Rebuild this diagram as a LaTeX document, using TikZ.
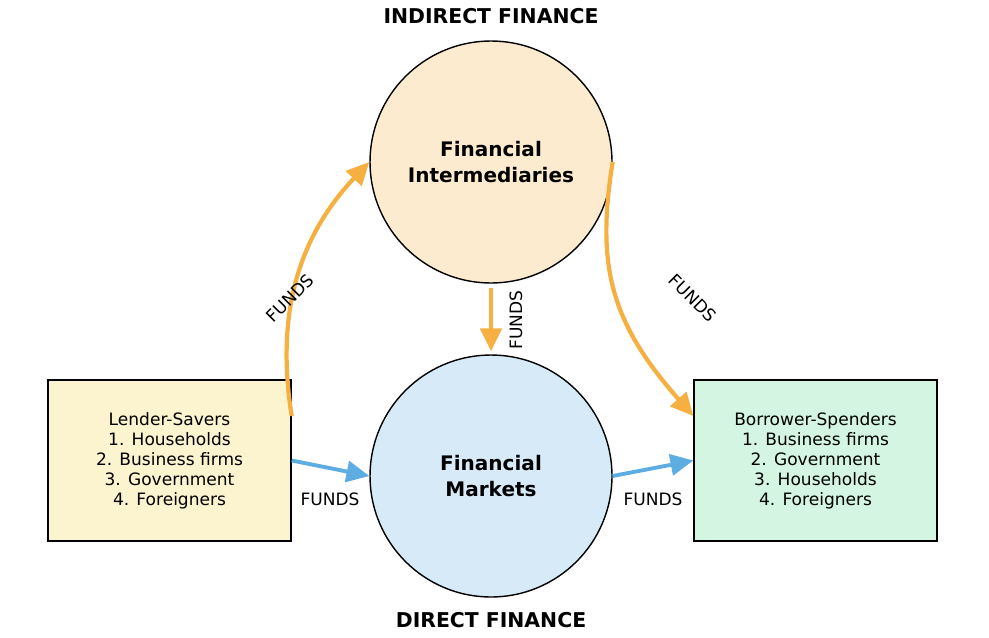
\documentclass[tikz,border=0pt]{standalone}
\usepackage{fontspec}
\setmainfont{DejaVu Sans}
\usetikzlibrary{arrows.meta}
\definecolor{fundorange}{HTML}{F5B041}
\definecolor{fundblue}{HTML}{5DADE2}
\definecolor{interfill}{HTML}{FDEBD0}
\definecolor{marketfill}{HTML}{D6EAF8}
\definecolor{lenderfill}{HTML}{FCF3CF}
\definecolor{borrowerfill}{HTML}{D5F5E3}

\begin{document}
\begin{tikzpicture}[
  x=0.02cm, y=0.02cm,
  hub/.style={circle, draw=black, line width=0.8pt, minimum size=4.84cm,
              inner sep=0pt, align=center,
              font=\fontsize{11.4}{14.6}\selectfont\bfseries},
  sector/.style={rectangle, draw=black, line width=0.8pt, minimum width=4.86cm,
                 minimum height=3.22cm, align=center,
                 font=\fontsize{9.7}{11.4}\selectfont},
  heading/.style={font=\fontsize{11.6}{14}\selectfont\bfseries},
  fundlabel/.style={font=\fontsize{9.7}{11.4}\selectfont, inner sep=1pt},
  orangearrow/.style={-{Triangle[length=13pt,width=12pt]}, line width=2.4pt, fundorange},
  bluearrow/.style={-{Triangle[length=13pt,width=12pt]}, line width=2.2pt, fundblue},
]
\useasboundingbox (0,0) rectangle (989,637);

% the two channels
\node[hub, fill=interfill] (inter) at (491,475) {Financial\\Intermediaries};
\node[hub, fill=marketfill] (market) at (491,161) {Financial\\Markets};

\node[heading] (indirect) at (491,621) {INDIRECT FINANCE};
\node[heading] (direct) at (491,17) {DIRECT FINANCE};

% sectors
\node[sector, fill=lenderfill] (lender) at (169.5,176.5)
  {Lender-Savers\\1. Households\\2. Business firms\\3. Government\\4. Foreigners};
\node[sector, fill=borrowerfill] (borrower) at (815.5,176.5)
  {Borrower-Spenders\\1. Business firms\\2. Government\\3. Households\\4. Foreigners};

% indirect route
\draw[orangearrow] (lender.20) .. controls +(-17,107) and +(-68,-72) .. (inter.west);
\draw[orangearrow] (inter.east) .. controls +(-17,-105) and +(-82,93) .. (borrower.160);
\draw[orangearrow, shorten <=0.08cm, shorten >=0.06cm] (inter.south) -- (market.north);

% direct route
\draw[bluearrow] (lender.east) -- (market.west);
\draw[bluearrow] (market.east) -- (borrower.west);

% labels
\node[fundlabel, rotate=45] (f1) at (290,339) {FUNDS};
\node[fundlabel, rotate=-45] (f2) at (693,339) {FUNDS};
\node[fundlabel, rotate=90] (f3) at (516,317) {FUNDS};
\node[fundlabel] (f4) at (330,138) {FUNDS};
\node[fundlabel] (f5) at (653,138) {FUNDS};

\end{tikzpicture}
\end{document}
